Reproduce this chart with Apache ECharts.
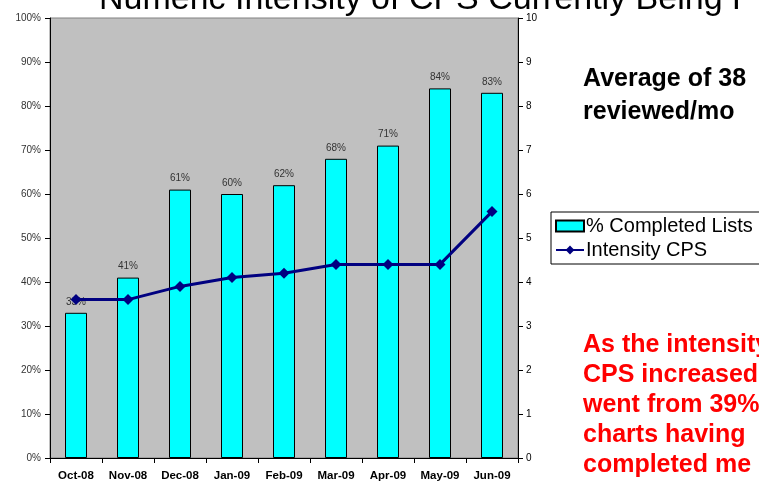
<!DOCTYPE html>
<html>
<head>
<meta charset="utf-8">
<script src="https://cdn.jsdelivr.net/npm/echarts@6/dist/echarts.min.js"></script>
<style>
  html, body { margin: 0; padding: 0; background: #fff; }
  #chart { width: 759px; height: 483px; }
</style>
</head>
<body>
<div id="chart"></div>
<script>
// data
const months = ['Oct-08', 'Nov-08', 'Dec-08', 'Jan-09', 'Feb-09', 'Mar-09', 'Apr-09', 'May-09', 'Jun-09']
const completedLists = [33, 41, 61, 60, 62, 68, 71, 84, 83]
const intensityCps = [3.6, 3.6, 3.9, 4.1, 4.2, 4.4, 4.4, 4.4, 5.6]
const noteLines = ['As the intensity', 'CPS increased', 'went from 39%', 'charts having', 'completed me']

const chart = echarts.init(document.getElementById('chart'))

const graphics = [
  {
    type: 'text',
    left: 99,
    top: -17,
    style: {
      text: 'Numeric Intensity of CPS Currently Being P',
      font: '34px Arial, "Liberation Sans", sans-serif',
      fill: '#000'
    }
  },
  {
    type: 'text',
    left: 583,
    top: 63,
    style: {
      text: 'Average of 38\nreviewed/mo',
      font: 'bold 25px Arial, "Liberation Sans", sans-serif',
      lineHeight: 33,
      fill: '#000'
    }
  }
]
noteLines.forEach((line, i) => {
  graphics.push({
    type: 'text',
    left: 583,
    top: 333 + i * 30,
    style: {
      text: line,
      font: 'bold 25px Arial, "Liberation Sans", sans-serif',
      fill: '#ff0000'
    }
  })
})

const option = {
  animation: false,
  backgroundColor: '#fff',
  textStyle: { fontFamily: 'Arial, "Liberation Sans", sans-serif' },
  grid: {
    left: 50,
    right: 241,
    top: 18,
    bottom: 25,
    show: true,
    backgroundColor: '#c0c0c0',
    borderColor: '#808080',
    borderWidth: 1
  },
  legend: {
    left: 551,
    top: 212,
    orient: 'vertical',
    itemGap: 4,
    itemWidth: 28,
    itemHeight: 11,
    padding: [4, 60, 4, 4],
    borderColor: '#000',
    borderWidth: 1,
    backgroundColor: '#fff',
    textStyle: { fontSize: 20, color: '#000', padding: [0, 0, 0, -3] },
    data: [
      { name: '% Completed Lists', icon: 'rect' },
      { name: 'Intensity CPS' }
    ]
  },
  xAxis: {
    type: 'category',
    data: months,
    boundaryGap: true,
    axisLine: { lineStyle: { color: '#000', width: 1 } },
    axisTick: { show: true, length: 5, lineStyle: { color: '#000' } },
    axisLabel: { interval: 0, color: '#000', fontSize: 11.5, fontWeight: 'bold', margin: 12 }
  },
  yAxis: [
    {
      type: 'value',
      min: 0,
      max: 100,
      interval: 10,
      axisLine: { show: true, lineStyle: { color: '#000' } },
      axisTick: { show: true, length: 5, lineStyle: { color: '#000' } },
      axisLabel: { color: '#333', fontSize: 10, formatter: '{value}%', margin: 9 },
      splitLine: { show: false }
    },
    {
      type: 'value',
      min: 0,
      max: 10,
      interval: 1,
      position: 'right',
      axisLine: { show: true, lineStyle: { color: '#000' } },
      axisTick: { show: true, length: 5, lineStyle: { color: '#000' } },
      axisLabel: { color: '#000', fontSize: 10, margin: 8 },
      splitLine: { show: false }
    }
  ],
  series: [
    {
      name: '% Completed Lists',
      type: 'bar',
      data: completedLists,
      barWidth: 22,
      itemStyle: { color: '#00ffff', borderColor: '#000', borderWidth: 1 },
      label: {
        show: true,
        position: 'top',
        distance: 6,
        formatter: '{c}%',
        fontSize: 10,
        color: '#333'
      }
    },
    {
      name: 'Intensity CPS',
      type: 'line',
      yAxisIndex: 1,
      data: intensityCps,
      symbol: 'diamond',
      symbolSize: 11,
      itemStyle: { color: '#000080' },
      lineStyle: { color: '#000080', width: 3 },
      z: 5
    }
  ],
  graphic: graphics
}

chart.setOption(option)
</script>
</body>
</html>
